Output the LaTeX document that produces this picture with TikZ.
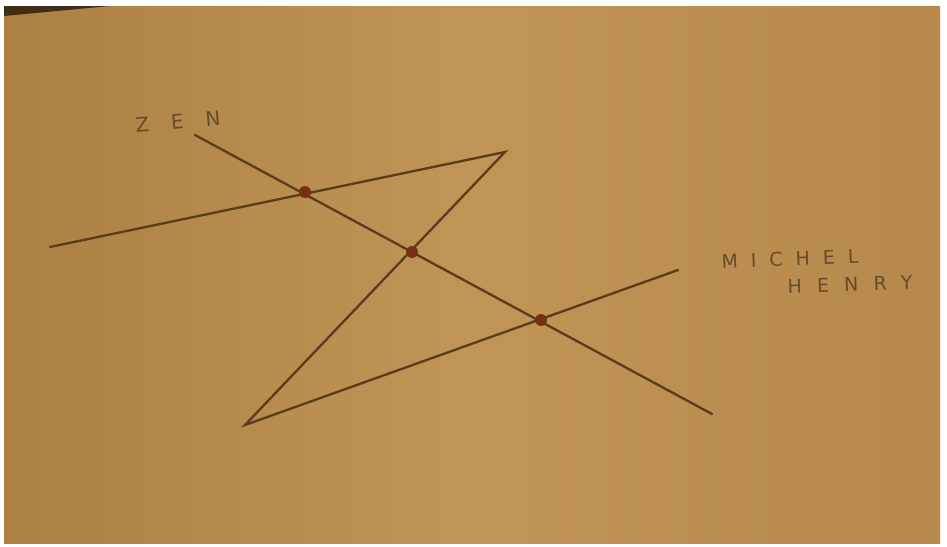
\documentclass[tikz,border=0pt]{standalone}
\usepackage{fontspec}
\setmainfont{DejaVu Sans}
\newfontfamily\handfont{DejaVu Sans}
\definecolor{paperL}{RGB}{172,128,66}
\definecolor{paperM}{RGB}{193,148,88}
\definecolor{paperR}{RGB}{182,136,76}
\definecolor{ink}{RGB}{90,60,26}
\definecolor{dotc}{RGB}{118,48,20}
\definecolor{textink}{RGB}{105,75,38}
\tikzset{
  pen/.style={draw=ink, line width=2.3pt, line cap=round},
  dotnode/.style={circle, fill=dotc, inner sep=0pt, minimum size=12pt},
  hand/.style={text=textink, inner sep=0pt}
}
\begin{document}
\begin{tikzpicture}[x=1pt,y=-1pt]
\useasboundingbox (0,0) rectangle (947,546);
\fill[white] (0,0) rectangle (947,546);
\shade[left color=paperL, right color=paperR, middle color=paperM] (4,6) rectangle (940,543);
\fill[black!80!brown, opacity=0.8] (4,6) -- (110,6) -- (4,16) -- cycle;
% points
\coordinate (zs) at (195,135);
\coordinate (ze) at (712,414);
\coordinate (ul) at (50,247);
\coordinate (ur) at (505,152);
\coordinate (bl) at (245,425);
\coordinate (lr) at (678,270);
% lines
\draw[pen] (zs) -- (ze);
\draw[pen] (ul) -- (ur) -- (bl) -- (lr);
% dots
\node[dotnode] (d1) at (305,192) {};
\node[dotnode] (d2) at (412,252) {};
\node[dotnode] (d3) at (541,320) {};
% labels
\node[hand, rotate=5, font={\handfont\addfontfeature{LetterSpace=110}\fontsize{20}{20}\selectfont}] (zen) at (178,122) {ZEN};
\node[hand, rotate=2, font={\handfont\addfontfeature{LetterSpace=68}\fontsize{19}{19}\selectfont}] (michel) at (790,259) {MICHEL};
\node[hand, rotate=2, font={\handfont\addfontfeature{LetterSpace=80}\fontsize{19}{19}\selectfont}] (henry) at (850,284) {HENRY};
\end{tikzpicture}
\end{document}
